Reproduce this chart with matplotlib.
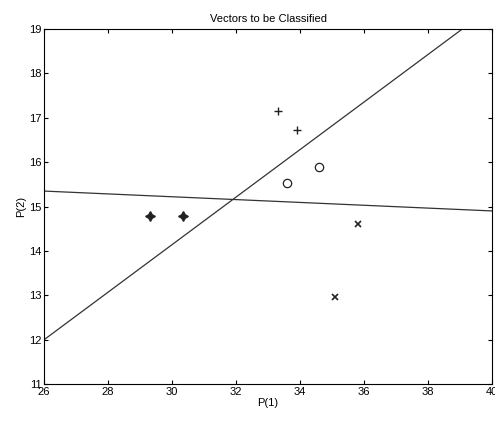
import numpy as np
import matplotlib
matplotlib.use('Agg')
import matplotlib.pyplot as plt

plt.rcParams['font.family'] = ['Liberation Sans', 'DejaVu Sans']

# input vectors by class
plus_x = [33.3, 33.9]
plus_y = [17.15, 16.72]
circ_x = [33.6, 34.6]
circ_y = [15.52, 15.9]
star_x = [29.3, 30.35]
star_y = [14.78, 14.78]
cross_x = [35.8, 35.1]
cross_y = [14.6, 12.97]

# perceptron boundaries: w1*x + w2*y + b = 0
W = [[-0.536, 1.0], [0.032, 1.0]]
b = [1.94, -16.18]

fig = plt.figure(figsize=(4.95, 4.28), dpi=100)
ax = fig.add_axes([0.089, 0.103, 0.905, 0.829])

ms = 6
ax.plot(plus_x, plus_y, '+', color='#222222', ms=ms, mew=1.0)
ax.plot(circ_x, circ_y, 'o', mfc='none', mec='#222222', ms=ms, mew=0.9)
ax.plot(star_x, star_y, marker=(4, 1, 0), ls='none', color='#222222', ms=ms + 1)
ax.plot(cross_x, cross_y, 'x', color='#222222', ms=ms - 1, mew=1.2)

xs = np.linspace(26, 40, 200)
for w, bb in zip(W, b):
    ys = -(w[0] * xs + bb) / w[1]
    ax.plot(xs, ys, color='#333333', lw=0.9)

ax.set_xlim(26, 40)
ax.set_ylim(11, 19)
ax.set_xticks(np.arange(26, 41, 2))
ax.set_yticks(np.arange(11, 20, 1))
ax.tick_params(direction='in', top=True, right=True, labelsize=8, length=3, pad=2)
ax.set_xlabel('P(1)', fontsize=8, labelpad=1)
ax.set_ylabel('P(2)', fontsize=8, labelpad=2)
ax.set_title('Vectors to be Classified', fontsize=8, pad=5)

plt.savefig('out.png', dpi=100)
